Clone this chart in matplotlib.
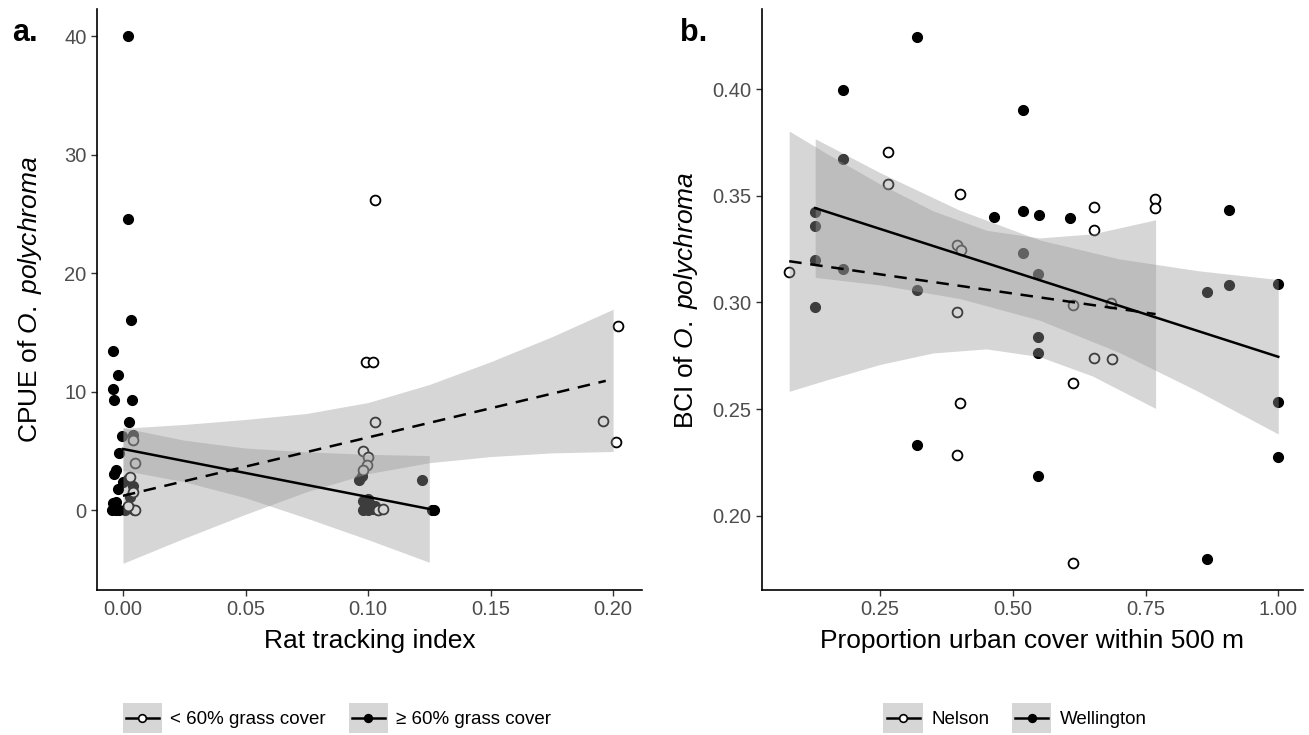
import matplotlib
matplotlib.use("Agg")
import matplotlib.pyplot as plt
from matplotlib.patches import Rectangle
from matplotlib.lines import Line2D
from matplotlib.legend_handler import HandlerBase

plt.rcParams['font.family'] = ['Liberation Sans', 'DejaVu Sans']
plt.rcParams['mathtext.fontset'] = 'custom'
plt.rcParams['mathtext.rm'] = 'Liberation Sans'
plt.rcParams['mathtext.it'] = 'Liberation Sans:italic'

# ---- panel a: CPUE vs rat tracking index ----
a_high_x = [0.002, 0.002, 0.0032, -0.004, -0.002, -0.004, -0.0035, 0.0035, 0.0023, -0.0006,
            0.004, -0.0016, -0.003, -0.0035, 0.0, 0.002, -0.002, 0.004, 0.003, -0.004,
            -0.003, -0.0045, -0.003, -0.0015, 0.001, 0.003, 0.0045,
            0.0963, 0.0975, 0.098, 0.099, 0.1, 0.101, 0.102, 0.1, 0.103, 0.098, 0.104,
            0.122, 0.126, 0.127]
a_high_y = [40.0, 24.6, 16.0, 13.4, 11.4, 10.2, 9.3, 9.3, 7.4, 6.25,
            6.3, 4.8, 3.4, 3.0, 2.4, 2.6, 1.8, 2.0, 1.1, 0.6,
            0.7, 0.0, 0.0, 0.0, 0.0, 0.2, 0.0,
            2.5, 2.9, 0.8, 0.4, 0.9, 0.5, 0.1, 0.0, 0.3, 0.0, 0.0,
            2.5, 0.0, 0.0]
a_low_x = [0.103, 0.0993, 0.1019, 0.103, 0.098, 0.1, 0.0995, 0.098, 0.202, 0.196,
           0.201, 0.004, 0.005, 0.003, 0.004, 0.005, 0.002, 0.104, 0.106]
a_low_y = [26.2, 12.5, 12.5, 7.4, 5.0, 4.45, 3.8, 3.4, 15.5, 7.5,
           5.7, 5.9, 4.0, 2.8, 1.5, 0.0, 0.3, 0.0, 0.1]

# fitted lines and confidence bands
a_low_fit_x = [0.0, 0.197]
a_low_fit_y = [1.2, 10.9]
a_low_band_x = [0.0, 0.025, 0.05, 0.075, 0.1, 0.125, 0.15, 0.175, 0.2]
a_low_band_lo = [-4.5, -2.38, -0.36, 1.55, 3.07, 3.99, 4.51, 4.82, 4.94]
a_low_band_hi = [6.9, 7.22, 7.64, 8.15, 9.07, 10.59, 12.51, 14.62, 16.94]

a_high_fit_x = [0.0, 0.126]
a_high_fit_y = [5.15, 0.05]
a_high_band_x = [0.0, 0.025, 0.05, 0.075, 0.1, 0.125]
a_high_band_lo = [3.35, 2.39, 1.03, -0.69, -2.5, -4.41]
a_high_band_hi = [6.95, 5.89, 5.23, 4.91, 4.7, 4.59]

# ---- panel b: BCI vs urban cover ----
b_well_x = [0.319, 0.18, 0.52, 0.18, 0.465, 0.52, 0.5485, 0.6076, 0.9074, 0.128,
            0.128, 0.128, 0.18, 0.52, 0.547, 0.319, 0.8665, 0.9074, 0.9987, 0.128,
            0.547, 0.547, 0.9987, 0.319, 0.9987, 0.547, 0.8665]
b_well_y = [0.4246, 0.3997, 0.390, 0.3673, 0.3398, 0.343, 0.3408, 0.3394, 0.3433, 0.3425,
            0.3359, 0.320, 0.3158, 0.3231, 0.3134, 0.3056, 0.3047, 0.308, 0.3086, 0.2979,
            0.2836, 0.2761, 0.2532, 0.2333, 0.2277, 0.2185, 0.1798]
b_nel_x = [0.2654, 0.2654, 0.4016, 0.6538, 0.6538, 0.7686, 0.7686, 0.0789, 0.395, 0.403,
           0.685, 0.395, 0.613, 0.6538, 0.686, 0.613, 0.4016, 0.395, 0.613]
b_nel_y = [0.3705, 0.3556, 0.3509, 0.3448, 0.3341, 0.3485, 0.344, 0.3142, 0.327, 0.3247,
           0.2999, 0.2955, 0.2989, 0.2739, 0.2735, 0.2622, 0.2529, 0.2283, 0.178]

b_nel_fit_x = [0.079, 0.769]
b_nel_fit_y = [0.3193, 0.2945]
b_nel_band_x = [0.079, 0.15, 0.25, 0.35, 0.45, 0.55, 0.65, 0.769]
b_nel_band_lo = [0.2583, 0.2637, 0.2709, 0.2763, 0.2782, 0.2746, 0.2655, 0.2503]
b_nel_band_hi = [0.3803, 0.3697, 0.3555, 0.3429, 0.3338, 0.3302, 0.3321, 0.3387]

b_well_fit_x = [0.128, 1.0]
b_well_fit_y = [0.3442, 0.2745]
b_well_band_x = [0.128, 0.25, 0.4, 0.55, 0.7, 0.85, 1.0]
b_well_band_lo = [0.3117, 0.3082, 0.3018, 0.2917, 0.2766, 0.2582, 0.2383]
b_well_band_hi = [0.3767, 0.3608, 0.3432, 0.3293, 0.3204, 0.3148, 0.3107]

W, H = 1309, 735
fig = plt.figure(figsize=(W / 100, H / 100), dpi=100)

def px_axes(l, r, t, b):
    return fig.add_axes([l / W, 1 - b / H, (r - l) / W, (b - t) / H])

band_col = '#999999'
band_alpha = 0.4
tick_col = '#4D4D4D'

def style(ax):
    for s in ['top', 'right']:
        ax.spines[s].set_visible(False)
    for s in ['left', 'bottom']:
        ax.spines[s].set_linewidth(1.2)
        ax.spines[s].set_color('black')
    ax.tick_params(direction='out', length=4, width=1.0, color='#333333',
                   labelsize=14.5, labelcolor=tick_col)

def draw_group(ax, x_open, y_open, x_fill, y_fill):
    ax.scatter(x_fill, y_fill, s=52, c='black', edgecolors='black', linewidths=0.8, zorder=2)
    ax.scatter(x_open, y_open, s=50, c='white', edgecolors='black', linewidths=1.3, zorder=2)

# panel a
ax1 = px_axes(97, 642, 9, 590)
draw_group(ax1, a_low_x, a_low_y, a_high_x, a_high_y)
ax1.fill_between(a_low_band_x, a_low_band_lo, a_low_band_hi, color=band_col, alpha=band_alpha,
                 linewidth=0, zorder=3)
ax1.fill_between(a_high_band_x, a_high_band_lo, a_high_band_hi, color=band_col, alpha=band_alpha,
                 linewidth=0, zorder=3)
ax1.plot(a_low_fit_x, a_low_fit_y, color='black', lw=1.8, ls=(0, (5, 3.5)), zorder=4)
ax1.plot(a_high_fit_x, a_high_fit_y, color='black', lw=1.8, zorder=4)
ax1.set_xlim(-0.0106, 0.2118)
ax1.set_ylim(-6.75, 42.28)
ax1.set_xticks([0.0, 0.05, 0.10, 0.15, 0.20])
ax1.set_xticklabels(['0.00', '0.05', '0.10', '0.15', '0.20'])
ax1.set_yticks([0, 10, 20, 30, 40])
style(ax1)

# panel b
ax2 = px_axes(762, 1303, 9, 590)
draw_group(ax2, b_nel_x, b_nel_y, b_well_x, b_well_y)
ax2.fill_between(b_nel_band_x, b_nel_band_lo, b_nel_band_hi, color=band_col, alpha=band_alpha,
                 linewidth=0, zorder=3)
ax2.fill_between(b_well_band_x, b_well_band_lo, b_well_band_hi, color=band_col, alpha=band_alpha,
                 linewidth=0, zorder=3)
ax2.plot(b_nel_fit_x, b_nel_fit_y, color='black', lw=1.8, ls=(0, (5, 3.5)), zorder=4)
ax2.plot(b_well_fit_x, b_well_fit_y, color='black', lw=1.8, zorder=4)
ax2.set_xlim(0.0278, 1.0466)
ax2.set_ylim(0.1652, 0.4375)
ax2.set_xticks([0.25, 0.50, 0.75, 1.00])
ax2.set_xticklabels(['0.25', '0.50', '0.75', '1.00'])
ax2.set_yticks([0.20, 0.25, 0.30, 0.35, 0.40])
ax2.set_yticklabels(['0.20', '0.25', '0.30', '0.35', '0.40'])
style(ax2)

# axis titles and panel tags
fig.text(30 / W, 1 - 300 / H, r'CPUE of $\mathit{O.}$ $\mathit{polychroma}$', rotation=90,
         ha='center', va='center', fontsize=19)
fig.text(686 / W, 1 - 300 / H, r'BCI of $\mathit{O.}$ $\mathit{polychroma}$', rotation=90,
         ha='center', va='center', fontsize=19)
fig.text(370 / W, 1 - 641 / H, 'Rat tracking index', ha='center', va='center', fontsize=19)
fig.text(1032 / W, 1 - 641 / H, 'Proportion urban cover within 500 m', ha='center',
         va='center', fontsize=19)
fig.text(12 / W, 1 - 33 / H, 'a.', ha='left', va='center', fontsize=22, fontweight='bold')
fig.text(680 / W, 1 - 33 / H, 'b.', ha='left', va='center', fontsize=22, fontweight='bold')

# legends: grey ribbon key with line and point drawn through its middle
class KeyHandler(HandlerBase):
    def create_artists(self, legend, orig_handle, xdescent, ydescent, width, height,
                       fontsize, trans):
        x0, y0 = -xdescent, -ydescent
        yc = y0 + height / 2
        box = Rectangle((x0, y0), width, height, facecolor='#D6D6D6', edgecolor='none',
                        transform=trans)
        ln = Line2D([x0 + width * 0.08, x0 + width * 0.92], [yc, yc], color='black', lw=1.8,
                    transform=trans)
        mk = Line2D([x0 + width / 2], [yc], marker='o', markersize=5.5, linestyle='none',
                    markerfacecolor=orig_handle.get_markerfacecolor(),
                    markeredgecolor='black', markeredgewidth=1.2, transform=trans)
        return [box, ln, mk]

def key(face):
    return Line2D([], [], marker='o', markerfacecolor=face)

leg_kw = dict(loc='center', ncol=2, frameon=False, fontsize=13.5, handlelength=2.1,
              handleheight=2.1, handletextpad=0.45, columnspacing=1.2,
              handler_map={Line2D: KeyHandler()})
fig.legend([key('white'), key('black')], ['< 60% grass cover', '\u2265 60% grass cover'],
           bbox_to_anchor=(337 / W, 1 - 718 / H), **leg_kw)
fig.legend([key('white'), key('black')], ['Nelson', 'Wellington'],
           bbox_to_anchor=(1015 / W, 1 - 718 / H), **leg_kw)

fig.savefig('out.png', dpi=100)
